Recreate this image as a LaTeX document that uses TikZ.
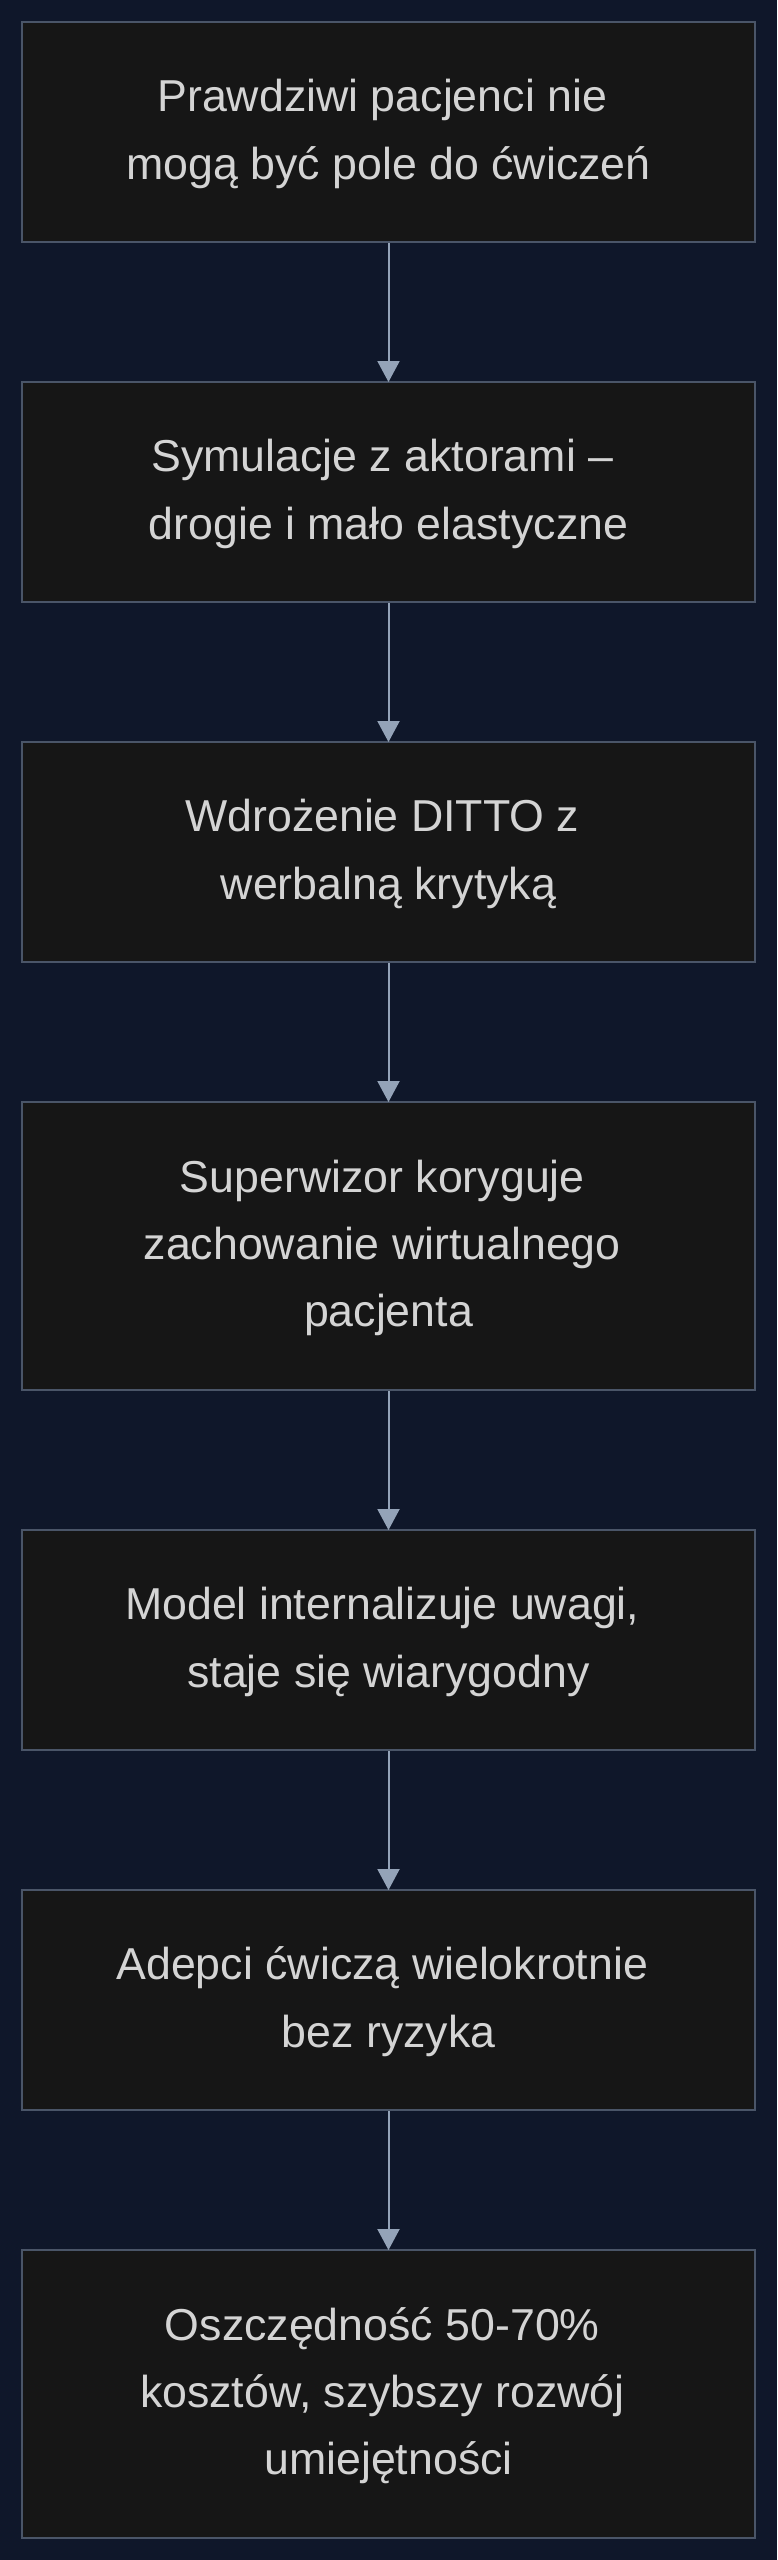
\documentclass[tikz,border=0pt]{standalone}
\usepackage{fontspec}
\setmainfont{Liberation Sans}
\usetikzlibrary{arrows.meta}
\definecolor{bgc}{HTML}{0F172A}
\definecolor{boxfill}{HTML}{161616}
\definecolor{boxline}{HTML}{4A5568}
\definecolor{arrowc}{HTML}{94A3B8}
\definecolor{txtc}{HTML}{D4D4D4}
\newcommand{\tsp}{\hspace*{0.278em}}
\newcommand{\lines}[1]{\begin{tabular}{@{}c@{}}#1\end{tabular}}
\tikzset{
  stepbox/.style={draw=boxline, fill=boxfill, line width=2pt, inner sep=0pt,
    minimum width=733pt, minimum height=220pt, text=txtc,
    font=\fontsize{44.7}{67.2}\selectfont},
  tallbox/.style={stepbox, minimum height=288pt},
  flow/.style={draw=arrowc, line width=2pt, -{Triangle[width=22pt,length=21pt]}, shorten >=-1pt}
}
\begin{document}
\begin{tikzpicture}[x=1pt,y=-1pt]
\fill[bgc] (0,0) rectangle (777,2560);
\useasboundingbox (0,0) rectangle (777,2560);
\node[stepbox] (b1) at (388.5,132) {\lines{Prawdziwi pacjenci nie\tsp\\mogą być pole do ćwiczeń}};
\node[stepbox] (b2) at (388.5,492) {\lines{Symulacje z aktorami –\tsp\\drogie i mało elastyczne}};
\node[stepbox] (b3) at (388.5,852) {\lines{Wdrożenie DITTO z\tsp\\werbalną krytyką}};
\node[tallbox] (b4) at (388.5,1246) {\lines{Superwizor koryguje\tsp\\zachowanie wirtualnego\tsp\\pacjenta}};
\node[stepbox] (b5) at (388.5,1640) {\lines{Model internalizuje uwagi,\tsp\\staje się wiarygodny}};
\node[stepbox] (b6) at (388.5,2000) {\lines{Adepci ćwiczą wielokrotnie\tsp\\bez ryzyka}};
\node[tallbox] (b7) at (388.5,2394) {\lines{Oszczędność 50-70\%\tsp\\kosztów, szybszy rozwój\tsp\\umiejętności}};
\draw[flow] (b1.south) -- (b2.north);
\draw[flow] (b2.south) -- (b3.north);
\draw[flow] (b3.south) -- (b4.north);
\draw[flow] (b4.south) -- (b5.north);
\draw[flow] (b5.south) -- (b6.north);
\draw[flow] (b6.south) -- (b7.north);
\end{tikzpicture}
\end{document}
